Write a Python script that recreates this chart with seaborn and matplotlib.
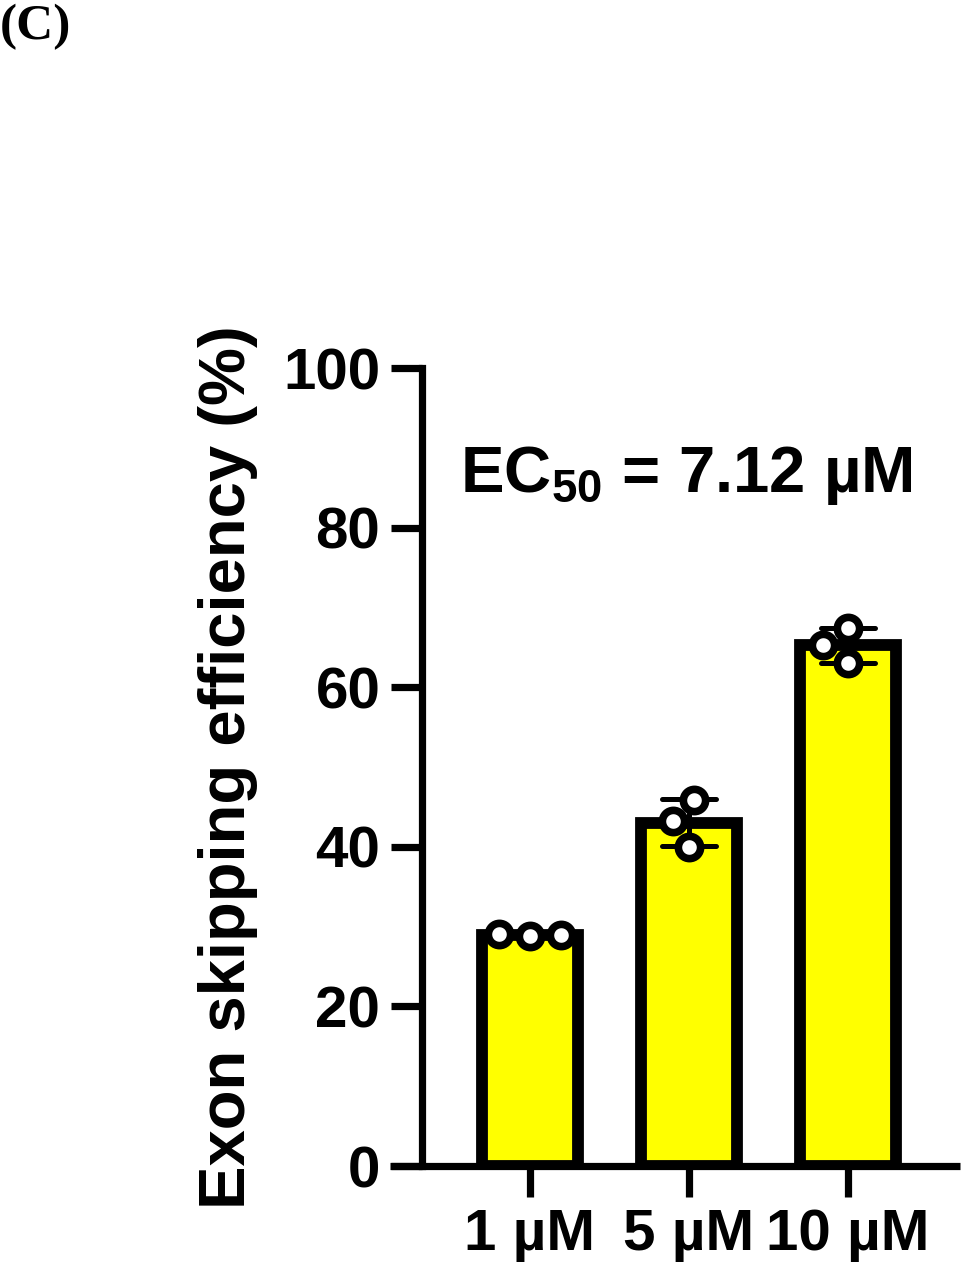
import pandas as pd
import matplotlib.pyplot as plt
import seaborn as sns

# --- Data ---
conc = ["1 µM", "5 µM", "10 µM"]
vals_1uM = [28.8, 29.1, 28.9]
vals_5uM = [45.9, 43.2, 40.0]
vals_10uM = [67.4, 65.3, 63.0]
yticks = [0, 20, 40, 60, 80, 100]
ec50_text = r"$\mathbf{EC_{50}}$ = 7.12 µM"

df = pd.DataFrame({
    "conc": [conc[0]] * 3 + [conc[1]] * 3 + [conc[2]] * 3,
    "value": vals_1uM + vals_5uM + vals_10uM,
})

# --- Style ---
sns.set_style("ticks")
plt.rcParams["font.family"] = ["Liberation Sans", "DejaVu Sans"]
plt.rcParams["font.weight"] = "bold"
plt.rcParams["mathtext.fontset"] = "custom"
plt.rcParams["mathtext.bf"] = "Liberation Sans:bold"
plt.rcParams["mathtext.rm"] = "Liberation Sans:bold"
for key in ["text.color", "axes.labelcolor", "axes.edgecolor", "xtick.color", "ytick.color"]:
    plt.rcParams[key] = "black"

fig = plt.figure(figsize=(9.64, 12.8), dpi=100)
ax = fig.add_axes([390 / 964, 1 - 1166 / 1280, 570 / 964, 798 / 1280])

# --- Bars with mean +/- SD ---
sns.barplot(data=df, x="conc", y="value", order=conc, color="#FFFF00",
            saturation=1, width=0.6, edgecolor="black", linewidth=8.5,
            errorbar="sd", capsize=0.34,
            err_kws={"color": "black", "linewidth": 3.6}, ax=ax)

# --- Individual replicates ---
sns.swarmplot(data=df, x="conc", y="value", order=conc, color="white",
              edgecolor="black", linewidth=5.5, size=16, ax=ax)

ax.set_xlim(-0.88, 2.705)
ax.set_ylim(0, 100)
ax.set_yticks(yticks)
ax.set_xlabel("")
ax.set_ylabel("Exon skipping efficiency (%)", fontsize=47, fontweight="bold",
              labelpad=18)

# GraphPad-style axes
for s in ["top", "right"]:
    ax.spines[s].set_visible(False)
ax.spines["left"].set_position(("axes", 32 / 570))
ax.spines["left"].set_linewidth(5.2)
ax.spines["bottom"].set_linewidth(5.2)
ax.spines["bottom"].set_capstyle("butt")
ax.tick_params(axis="both", direction="out", length=22, width=5.2,
               labelsize=42, pad=8)
for lab in ax.get_xticklabels() + ax.get_yticklabels():
    lab.set_fontweight("bold")

ax.text(-0.44, 84.5, ec50_text, fontsize=47, fontweight="bold",
        ha="left", va="baseline")

fig.text(0.0, 0.997, "(C)", fontsize=37, fontweight="bold",
         family=["Liberation Serif"], ha="left", va="top")

plt.savefig("out.png", dpi=100)
